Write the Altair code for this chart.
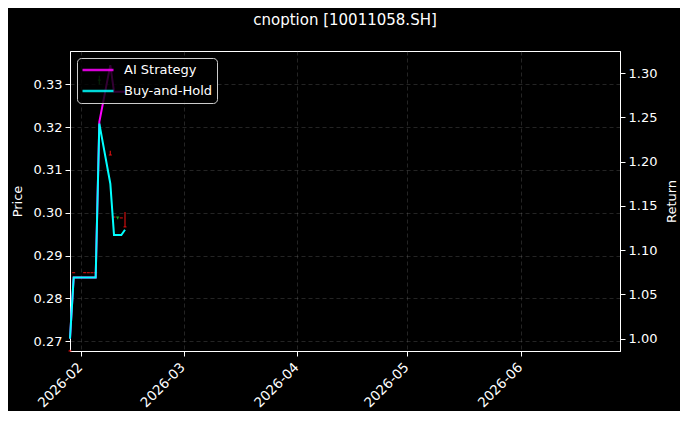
import altair as alt
import pandas as pd

# trading days shown on the chart
dates = ["2026-01-29", "2026-01-30", "2026-02-02", "2026-02-03", "2026-02-04", "2026-02-05",
         "2026-02-06", "2026-02-09", "2026-02-10", "2026-02-11", "2026-02-12", "2026-02-13"]

# option price candles (left axis)
price_open = [0.2680, 0.2860, 0.2860, 0.2860, 0.2860, 0.2860, 0.3300, 0.3140, 0.2990, 0.2985, 0.2988, 0.3002]
price_high = [0.2680, 0.2860, 0.2860, 0.2860, 0.2860, 0.2860, 0.3320, 0.3145, 0.2990, 0.2990, 0.2988, 0.3002]
price_low = [0.2677, 0.2860, 0.2860, 0.2860, 0.2860, 0.2860, 0.3300, 0.3135, 0.2990, 0.2985, 0.2988, 0.2967]
price_close = [0.2677, 0.2860, 0.2860, 0.2860, 0.2860, 0.2860, 0.3310, 0.3135, 0.2990, 0.2990, 0.2988, 0.2967]

# cumulative returns (right axis)
ai_return = [1.000, 1.069, 1.069, 1.069, 1.069, 1.069, 1.245, 1.309, 1.279, 1.279, 1.279, 1.279]
bh_return = [1.000, 1.069, 1.069, 1.069, 1.069, 1.069, 1.243, 1.175, 1.117, 1.117, 1.117, 1.123]

series_names = ["AI Strategy", "Buy-and-Hold"]
series_colors = ["#ff00ff", "#00ffff"]

price_ticks = [0.27, 0.28, 0.29, 0.30, 0.31, 0.32, 0.33]
return_ticks = [1.00, 1.05, 1.10, 1.15, 1.20, 1.25, 1.30]

FONT = "DejaVu Sans"

candles = pd.DataFrame({
    "date": dates, "open": price_open, "high": price_high,
    "low": price_low, "close": price_close,
})
candles["color"] = ["#22aa22" if c > o else "#dd1111" for o, c in zip(price_open, price_close)]

returns = pd.DataFrame({
    "date": dates + dates,
    "series": [series_names[0]] * len(dates) + [series_names[1]] * len(dates),
    "value": ai_return + bh_return,
})

x = alt.X(
    "date:T",
    scale=alt.Scale(type="utc", domain=[alt.DateTime(year=2026, month=1, date=29, utc=True),
                                        alt.DateTime(year=2026, month=6, date=28, utc=True)]),
    axis=alt.Axis(title=None, format="%Y-%m",
                  values=[alt.DateTime(year=2026, month=m, date=1, utc=True) for m in range(2, 7)],
                  labelAngle=-45, labelAlign="right", labelBaseline="top",
                  labelPadding=4, labelOffset=-6, labelFontSize=13.5),
)

price_scale = alt.Scale(domain=[0.2677, 0.3378], nice=False, zero=False)
price_axis = alt.Axis(title="Price", orient="left", values=price_ticks, format=".2f", titlePadding=9)

wicks = alt.Chart(candles).mark_rule(strokeWidth=1.3, opacity=0.85).encode(
    x=x,
    y=alt.Y("low:Q", scale=price_scale, axis=price_axis),
    y2="high:Q",
    color=alt.Color("color:N", scale=None),
)
bodies = alt.Chart(candles).mark_tick(orient="horizontal", size=3, thickness=1.2, opacity=0.85).encode(
    x=x,
    y=alt.Y("close:Q", scale=price_scale, axis=price_axis),
    color=alt.Color("color:N", scale=None),
)
price_layer = alt.layer(wicks, bodies)

lines = alt.Chart(returns).mark_line(strokeWidth=2).encode(
    x=x,
    y=alt.Y("value:Q", scale=alt.Scale(domain=[0.986, 1.325], nice=False, zero=False),
            axis=alt.Axis(title="Return", orient="right", values=return_ticks, format=".2f",
                          titleAngle=270, titleBaseline="bottom", titlePadding=22)),
    color=alt.Color(
        "series:N",
        scale=alt.Scale(domain=series_names, range=series_colors),
        legend=alt.Legend(
            title=None, orient="none", legendX=7, legendY=7,
            fillColor="rgba(0,0,0,0.8)", strokeColor="#cccccc", cornerRadius=4,
            padding=4, clipHeight=16, rowPadding=5,
            symbolType="stroke", symbolSize=961, symbolStrokeWidth=2.5,
            labelOffset=9, labelColor="white", labelFont=FONT, labelFontSize=13,
        ),
    ),
)

chart = alt.layer(price_layer, lines).resolve_scale(y="independent").properties(
    width=550,
    height=300,
    padding={"left": 62, "top": 43, "right": 60, "bottom": 60},
    autosize=alt.AutoSizeParams(type="none"),
    title=alt.TitleParams("cnoption [10011058.SH]", color="white", font=FONT, fontSize=15,
                          fontWeight="normal", anchor="middle", offset=23),
).configure(
    background="black",
).configure_view(
    stroke="white", strokeWidth=1,
).configure_axis(
    domainColor="white", tickColor="white", tickSize=5,
    labelColor="white", labelFont=FONT, labelFontSize=13, labelPadding=3,
    titleColor="white", titleFont=FONT, titleFontSize=13, titleFontWeight="normal",
    grid=True, gridColor="#808080", gridOpacity=0.4, gridDash=[4, 3], gridWidth=0.7,
)

chart.save("out.html", embed_options={"renderer": "svg", "actions": False})
